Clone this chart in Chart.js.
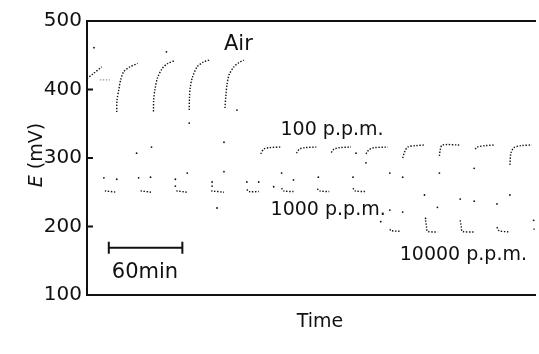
<!DOCTYPE html>
<html>
<head>
<meta charset="utf-8">
<script src="https://cdn.jsdelivr.net/npm/chart.js@4.4.1/dist/chart.umd.min.js"></script>
<style>
  html, body { margin: 0; padding: 0; background: #fff; }
  #wrap { width: 539px; height: 354px; }
</style>
</head>
<body>
<div id="wrap"><canvas id="myChart" width="539" height="354"></canvas></div>
<script>
// time in minutes, E in mV
const airRises = [
  [[0,416],[5,423],[12,433]],
  [[24.3,367],[24.5,384],[26,400],[27.5,414],[30,426],[35,433],[41.4,438]],
  [[54.3,368],[54.5,385],[55.5,400],[57.6,417],[61.6,431],[66,438],[71.4,442]],
  [[83.5,370],[83.7,387],[84.3,402],[86,417],[90,433],[95,440],[99.8,443]],
  [[112.7,373],[113.5,392],[114.4,407],[116,421],[120,433],[124,439],[128.1,443]]
];

const faintTrace = [[10.5,414],[18.7,414]];

const lows1000 = [
  [[14.6,252],[24.3,250]],
  [[43.8,252],[52.7,250]],
  [[73,252],[81.9,250]],
  [[101.4,252],[111.9,250]],
  [[130.6,254],[132.2,251],[140.3,251]],
  [[159,256],[160.6,252],[168.7,251]],
  [[188.2,255],[189.8,252],[197.9,251]],
  [[217.3,256],[219,252],[227.1,251]]
];

const highs100 = [
  [[141.9,306],[144.4,313],[148.4,315],[158.1,316]],
  [[171.1,307],[173.6,313],[177.6,315],[187.3,316]],
  [[199.5,308],[201.9,313],[206,315],[215.7,316]],
  [[227.9,306],[230.3,312],[234.4,315],[245.7,316]],
  [[257.9,300],[259.5,309],[262,316],[268.4,318],[275.7,319]],
  [[287.9,303],[288.7,313],[290.3,319],[304.1,319]],
  [[317.1,313],[318.7,316],[325.2,318],[333.3,319]],
  [[345.5,290],[346.3,307],[348.7,315],[354.4,318],[363.3,319]]
];

const lows10000 = [
  [[247.4,196],[248.2,194],[255.5,193]],
  [[276.6,209],[277.4,199],[278.2,193],[286.3,192]],
  [[304.9,209],[305.8,199],[306.6,193],[316.3,192]],
  [[334.9,199],[336.6,194],[344.7,192]],
  [[364.9,197],[366.6,193]]
];

// stray dots left by the pen during the fast changes
const strayDots = [
  [13.8,271],[24.3,269],[40.5,307],[42.2,271],[51.9,272],[52.7,316],[72.2,269],[72.2,259],
  [81.9,278],[102.2,265],[102.2,259],[111.9,323],[111.9,280],[106.2,227],[130.6,265],[140.3,265],
  [152.5,258],[83.5,351],[64.9,455],[122.5,370],[5.7,461],[159,278],[168.7,268],[189,272],
  [217.3,272],[219.8,307],[227.9,293],[247.4,278],[257.9,272],[247.4,224],[257.9,221],[240,207],
  [275.7,246],[286.3,228],[276.6,212],[287.9,278],[316.3,285],[304.9,240],[316.3,237],[334.9,233],
  [345.5,246],[364.9,209]
];

const scaleBarMin = [17.8, 77.9];
const scaleBarLevel = 169;

const yTicks = [100, 200, 300, 400, 500];

const notes = [
  { text: "Air", t: 111.9, v: 465, size: 21 },
  { text: "100 p.p.m.", t: 158.1, v: 341, size: 19 },
  { text: "1000 p.p.m.", t: 150, v: 224, size: 19 },
  { text: "10000 p.p.m.", t: 255.5, v: 158, size: 19 },
  { text: "60min", t: 20.3, v: 133, size: 21 }
];

const INK = "#111";
const FONT = "'DejaVu Sans', sans-serif";

function traceSet(points, color) {
  return {
    type: "line",
    data: points.map(p => ({ x: p[0], y: p[1] })),
    borderColor: color,
    borderWidth: 1.4,
    borderDash: [1.4, 1.6],
    pointRadius: 0,
    tension: 0.3,
    fill: false
  };
}

let datasets = [];
const allTraces = airRises.concat(lows1000, highs100, lows10000);
for (let i = 0; i < allTraces.length; i++) {
  datasets.push(traceSet(allTraces[i], INK));
}
datasets.push(traceSet(faintTrace, "#9a9a9a"));
datasets.push({
  type: "scatter",
  data: strayDots.map(p => ({ x: p[0], y: p[1] })),
  backgroundColor: INK,
  borderWidth: 0,
  pointRadius: 0.9
});
datasets.push({
  type: "line",
  data: scaleBarMin.map(t => ({ x: t, y: scaleBarLevel })),
  borderColor: INK,
  borderWidth: 2,
  pointRadius: 0,
  fill: false
});

const extras = {
  id: "extras",
  afterDraw(chart) {
    const ctx = chart.ctx;
    const xs = chart.scales.x;
    const ys = chart.scales.y;
    const area = chart.chartArea;
    ctx.save();
    ctx.strokeStyle = INK;
    ctx.fillStyle = INK;
    ctx.lineWidth = 2;

    // inward ticks on the E axis
    yTicks.forEach(v => {
      const py = ys.getPixelForValue(v);
      ctx.beginPath();
      ctx.moveTo(area.left, py);
      ctx.lineTo(area.left + 6, py);
      ctx.stroke();
    });

    // end caps of the 60 min bar
    scaleBarMin.forEach(t => {
      const px = xs.getPixelForValue(t);
      const py = ys.getPixelForValue(scaleBarLevel);
      ctx.beginPath();
      ctx.moveTo(px, py - 6);
      ctx.lineTo(px, py + 6);
      ctx.stroke();
    });

    // labels
    ctx.textBaseline = "middle";
    ctx.textAlign = "left";
    notes.forEach(n => {
      ctx.font = n.size + "px " + FONT;
      ctx.fillText(n.text, xs.getPixelForValue(n.t), ys.getPixelForValue(n.v));
    });

    // axis titles
    ctx.textAlign = "center";
    ctx.font = "19px " + FONT;
    ctx.fillText("Time", 320, 322);

    ctx.translate(37, 155);
    ctx.rotate(-Math.PI / 2);
    ctx.font = "italic 19px " + FONT;
    const wE = ctx.measureText("E").width;
    ctx.font = "19px " + FONT;
    const wRest = ctx.measureText(" (mV)").width;
    const start = -(wE + wRest) / 2;
    ctx.textAlign = "left";
    ctx.font = "italic 19px " + FONT;
    ctx.fillText("E", start, 0);
    ctx.font = "19px " + FONT;
    ctx.fillText(" (mV)", start + wE, 0);
    ctx.restore();
  }
};

new Chart("myChart", {
  data: { datasets: datasets },
  options: {
    responsive: false,
    animation: false,
    layout: { padding: { top: 21, right: 0, bottom: 0, left: 0 } },
    plugins: { legend: { display: false }, tooltip: { enabled: false } },
    scales: {
      x: {
        type: "linear",
        position: "bottom",
        min: 0,
        max: 366,
        ticks: { display: false },
        grid: { display: false, drawTicks: false },
        border: { display: true, color: INK, width: 2 },
        afterFit(scale) { scale.height = 59; }
      },
      xTop: {
        type: "linear",
        position: "top",
        min: 0,
        max: 366,
        ticks: { display: false },
        grid: { display: false, drawTicks: false },
        border: { display: true, color: INK, width: 2 },
        afterFit(scale) { scale.height = 0; }
      },
      y: {
        type: "linear",
        min: 100,
        max: 500,
        afterBuildTicks(scale) { scale.ticks = yTicks.map(v => ({ value: v })); },
        ticks: { color: INK, padding: 5, font: { family: FONT, size: 20 } },
        grid: { display: false, drawTicks: false },
        border: { display: true, color: INK, width: 2 },
        afterFit(scale) { scale.width = 87; }
      }
    }
  },
  plugins: [extras]
});
</script>
</body>
</html>
